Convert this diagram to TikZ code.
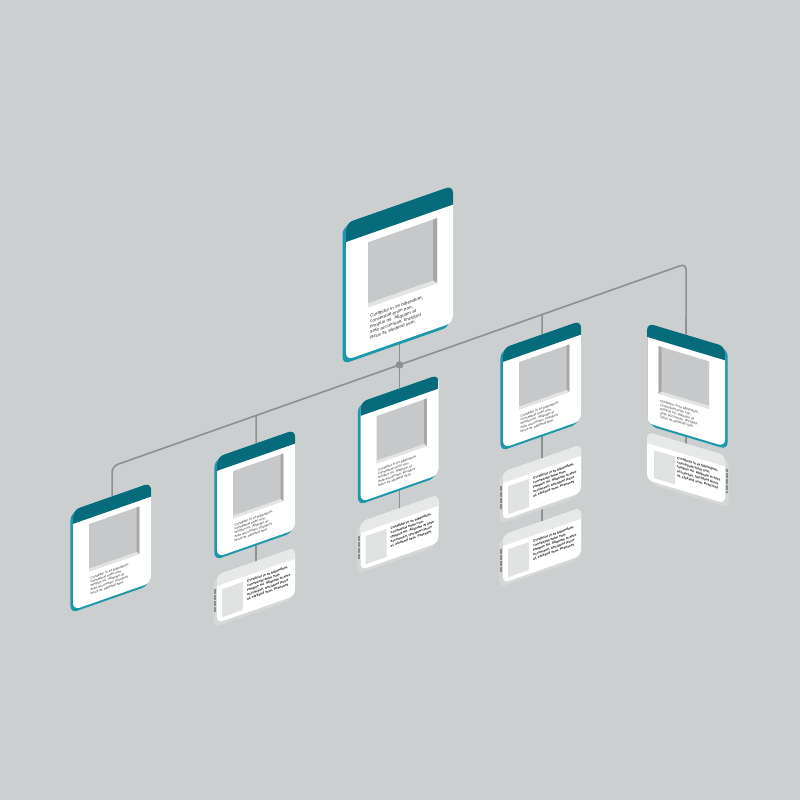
\documentclass[tikz,border=0pt]{standalone}
\usepackage{fontspec}
\setmainfont{Liberation Sans}
\usetikzlibrary{calc}
\definecolor{bgcol}{HTML}{CCCFD0}
\definecolor{headteal}{HTML}{066B7A}
\definecolor{sideteal}{HTML}{1C98AB}
\definecolor{linegray}{HTML}{8D8F90}
\definecolor{edgegray}{HTML}{C4C6C7}
\definecolor{picback}{HTML}{C6C8C9}
\definecolor{picwall}{HTML}{A5A7A8}
\definecolor{picfloor}{HTML}{E3E4E4}
\definecolor{tabgray}{HTML}{E7E8E8}
\definecolor{sidegray}{HTML}{D6D8D8}
\definecolor{ridgegray}{HTML}{8A8C8D}
\definecolor{notepic}{HTML}{E0E1E1}
\definecolor{textgray}{HTML}{2A2A2A}
\pgfdeclarelayer{back}
\pgfdeclarelayer{wires}
\pgfsetlayers{back,wires,main}
\tikzset{
  cardtext/.style={font=\fontsize{4.6}{5.4}\selectfont, align=left, inner sep=0pt, text=textgray},
  notetext/.style={font=\fontsize{3.3}{4.4}\selectfont\bfseries, align=left, inner sep=0pt, text=black},
  wire/.style={linegray, line width=1.6pt}
}
\newcommand\OrgCard[6]{
  % #1 name, #2 #3 top left corner, #4 scale, #5 slant, #6 facing
  \begin{scope}[shift={(#2,#3)}, yslant=#5, scale=#4, transform shape]
    \pgfmathsetmacro\pl{19+3*(#6)}
    \pgfmathsetmacro\pr{\pl+69}
    \pgfmathsetmacro\wo{#6>0 ? \pr : \pl}
    \pgfmathsetmacro\wi{#6>0 ? \pr-4 : \pl+4}
    \pgfmathsetmacro\fo{#6>0 ? \pl : \pr}
    \fill[sideteal, rounded corners=7] ({-3.5*(#6)},3) rectangle ++(107,137);
    \fill[white, rounded corners=7] (0,0) rectangle (107,137);
    \begin{scope}
      \clip[rounded corners=7] (0,0) rectangle (107,137);
      \fill[headteal] (0,0) rectangle (107,19);
      \draw[edgegray, line width=1pt] ({53.5+53.5*(#6)},19) -- ++(0,120);
    \end{scope}
    \fill[picback] (\pl,27) rectangle (\pr,92);
    \fill[picwall] (\wo,27) -- (\wi,27) -- (\wi,88) -- (\wo,92) -- cycle;
    \fill[picfloor] (\fo,88) -- (\wi,88) -- (\wo,92) -- (\fo,92) -- cycle;
    \node[cardtext, anchor=north west] (#1txt) at ({21+3*(#6)},99.5)
      {Curabitur in ex bibendum,\\consequat enim non,\\tempus mi. Aliquam at\\ante accumsan, tincidunt\\lacus at, eleifend sem.};
    \coordinate (#1top) at (53.5,0);
    \coordinate (#1mid) at (53.5,68);
  \end{scope}
}
\newcommand\OrgNote[5]{
  % #1 name, #2 #3 top left corner, #4 slant, #5 facing
  \begin{scope}[shift={(#2,#3)}, yslant=#4, transform shape]
    \fill[sidegray, rounded corners=6] ({-3.5*(#5)},3) rectangle ++(78,48);
    \draw[ridgegray, line width=2.2pt, dash pattern=on 0.6pt off 0.6pt] ({39-40.8*(#5)},13) -- ++(0,24);
    \fill[white, rounded corners=6] (0,0) rectangle (78,48);
    \begin{scope}
      \clip[rounded corners=6] (0,0) rectangle (78,48);
      \fill[tabgray] (0,0) rectangle (78,11);
    \end{scope}
    \fill[notepic] ({6-(#5)},16) rectangle ++(21,28);
    \node[notetext, anchor=north west] (#1txt) at (30,15.5)
      {Curabitur in ex bibendum,\\consequat enim non,\\tempus mi. Aliquam at ante\\accumsan, tincidunt lacus\\at, eleifend sem. Praesent};
    \coordinate (#1top) at (39,0);
    \coordinate (#1mid) at (39,24);
  \end{scope}
}
\begin{document}
\begin{tikzpicture}[x=1pt, y=-1pt]
\begin{pgfonlayer}{back}
  \fill[bgcol] (0,0) rectangle (800,800);
\end{pgfonlayer}
\useasboundingbox (0,0) rectangle (800,800);

\OrgCard{top}{346}{223}{1}{0.35}{1}
\OrgCard{c1}{73}{510}{0.73}{0.35}{1}
\OrgCard{c2}{217}{457}{0.73}{0.35}{1}
\OrgCard{c3}{360.5}{402}{0.73}{0.35}{1}
\OrgCard{c4}{503}{348}{0.73}{0.35}{1}
\OrgCard{c5}{647}{323}{0.73}{-0.3}{-1}

\OrgNote{n2}{217}{575}{0.35}{1}
\OrgNote{n3}{360.5}{522}{0.35}{1}
\OrgNote{n4a}{503}{472}{0.35}{1}
\OrgNote{n4b}{503}{535}{0.35}{1}
\OrgNote{n5}{647}{432}{-0.3}{-1}

\coordinate (kL) at ($(c1top)+(0,-30)$);
\coordinate (kR) at ($(c5top)+(0,-71)$);
\coordinate (k2) at (intersection of kL--kR and c2top--c2mid);
\coordinate (k3) at (intersection of kL--kR and toptop--topmid);
\coordinate (k4) at (intersection of kL--kR and c4top--c4mid);

\begin{pgfonlayer}{wires}
  \draw[wire, rounded corners=6] (c1top) -- (kL) -- (kR) -- (n5mid);
  \draw[wire] (k2) -- (n2mid);
  \draw[wire] (topmid) -- (n3mid);
  \draw[wire] (k4) -- (n4bmid);
  \fill[linegray] (k3) circle (3.8);
\end{pgfonlayer}
\end{tikzpicture}
\end{document}
